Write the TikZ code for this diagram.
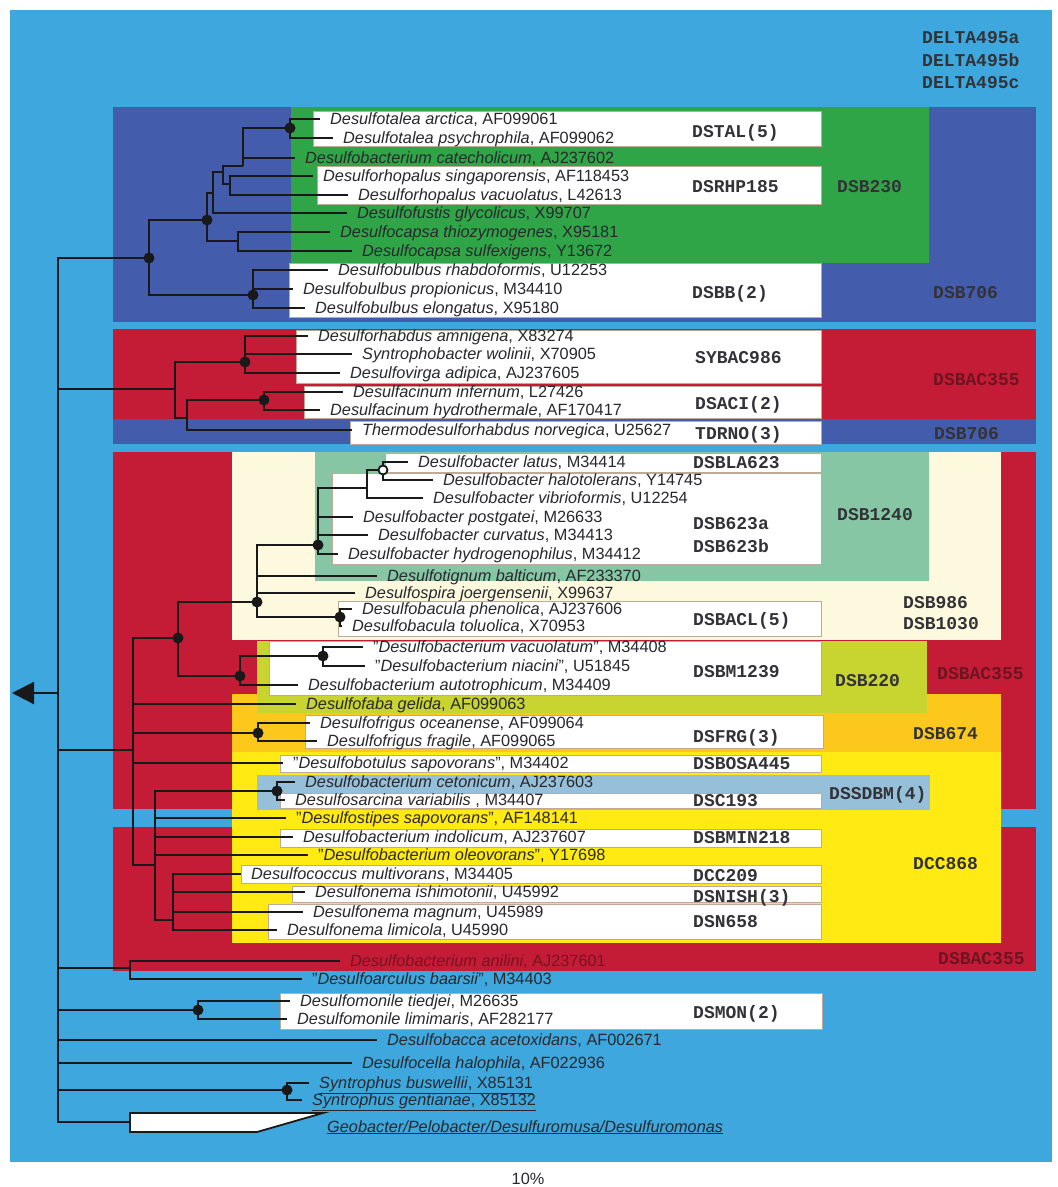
\documentclass[tikz,border=0pt]{standalone}
\usepackage{fontspec}
\setmainfont{Liberation Sans}
\setmonofont{Liberation Mono}
\usetikzlibrary{arrows.meta}
\definecolor{bgblue}{RGB}{62,168,222}
\definecolor{dkblue}{RGB}{68,92,172}
\definecolor{grn}{RGB}{48,165,72}
\definecolor{crimson}{RGB}{196,28,54}
\definecolor{ltgreen}{RGB}{134,198,164}
\definecolor{cream}{RGB}{252,249,222}
\definecolor{ygreen}{RGB}{200,212,48}
\definecolor{orng}{RGB}{252,200,28}
\definecolor{yell}{RGB}{255,234,20}
\definecolor{ltblue}{RGB}{150,192,218}
\definecolor{txt}{RGB}{40,40,45}
\definecolor{lbl}{RGB}{50,50,55}
\definecolor{dred}{RGB}{110,20,32}
\definecolor{anil}{RGB}{120,20,30}
\definecolor{boxline}{RGB}{190,170,150}
\tikzset{
 leaf/.style={anchor=west, inner xsep=10pt, inner ysep=0pt, text=txt, text height=13pt, text depth=3pt, font=\fontsize{16.3}{18}\selectfont},
 probe/.style={anchor=west, inner sep=0pt, text=lbl, text height=12pt, text depth=2pt, font=\ttfamily\bfseries\fontsize{18}{20}\selectfont},
 redprobe/.style={probe, text=dred},
 br/.style={line width=2.3pt, draw=black!90},
 tdot/.style={fill=black!90},
 wbox/.style={fill=white, draw=boxline, line width=0.5pt},
}
\newcommand\spn[1]{\textit{#1}}
\newcommand\qq{\symbol{34}}
\begin{document}
\begin{tikzpicture}[x=1pt,y=-1pt]
\useasboundingbox (0,0) rectangle (1058,1187);
\fill[white] (0,0) rectangle (1058,1187);
% background regions
\fill[bgblue] (10,10) rectangle (1052,1162);
\fill[dkblue] (113,107) rectangle (1036,322);
\fill[grn] (291,107) rectangle (929,263);
\fill[crimson] (113,329) rectangle (1036,419);
\fill[dkblue] (113,419) rectangle (1036,444);
\fill[crimson] (113,452) rectangle (1036,809);
\fill[crimson] (113,827) rectangle (1036,971);
\fill[cream] (232,452) rectangle (1001,640);
\fill[ltgreen] (315,452) rectangle (929,581);
\fill[orng] (232,694) rectangle (1001,752);
\fill[ygreen] (257,641) rectangle (927,713);
\fill[yell] (232,752) rectangle (1001,943);
\fill[ltblue] (257,775) rectangle (930,810);
% white boxes
\filldraw[wbox] (313,111) rectangle (821,146);
\filldraw[wbox] (317,166) rectangle (821,204);
\filldraw[wbox] (289,263) rectangle (821,317);
\filldraw[wbox] (296,330) rectangle (821,383);
\filldraw[wbox] (304,386) rectangle (821,418);
\filldraw[wbox] (350,421) rectangle (821,444);
\filldraw[wbox] (385,453) rectangle (821,472);
\filldraw[wbox] (332,473) rectangle (821,564);
\filldraw[wbox] (338,601) rectangle (821,636);
\filldraw[wbox] (269,641) rectangle (821,695);
\filldraw[wbox] (305,715) rectangle (823,748);
\filldraw[wbox] (280,755) rectangle (821,772);
\filldraw[wbox] (280,793) rectangle (821,808);
\filldraw[wbox] (280,829) rectangle (821,847);
\filldraw[wbox] (241,865) rectangle (821,883);
\filldraw[wbox] (292,886) rectangle (821,902);
\filldraw[wbox] (268,904) rectangle (821,939);
\filldraw[wbox] (280,993) rectangle (822,1029);
% probe labels
\node[probe] (p0a) at (922,38) {DELTA495a};
\node[probe] (p0b) at (922,61) {DELTA495b};
\node[probe] (p0c) at (922,83) {DELTA495c};
\node[probe] (p1) at (692,132) {DSTAL(5)};
\node[probe] (p2) at (692,187) {DSRHP185};
\node[probe] (p3) at (837,187) {DSB230};
\node[probe] (p4) at (692,293) {DSBB(2)};
\node[probe] (p5) at (933,293) {DSB706};
\node[probe] (p6) at (695,358) {SYBAC986};
\node[redprobe] (p7) at (933,380) {DSBAC355};
\node[probe] (p8) at (695,404) {DSACI(2)};
\node[probe] (p9) at (695,434) {TDRNO(3)};
\node[probe] (p10) at (934,434) {DSB706};
\node[probe] (p11) at (693,463) {DSBLA623};
\node[probe] (p12) at (837,515) {DSB1240};
\node[probe] (p13) at (693,524) {DSB623a};
\node[probe] (p14) at (693,547) {DSB623b};
\node[probe] (p15) at (903,603) {DSB986};
\node[probe] (p16) at (903,624) {DSB1030};
\node[probe] (p17) at (693,620) {DSBACL(5)};
\node[probe] (p18) at (693,672) {DSBM1239};
\node[probe] (p19) at (835,681) {DSB220};
\node[redprobe] (p20) at (937,674) {DSBAC355};
\node[probe] (p21) at (693,737) {DSFRG(3)};
\node[probe] (p22) at (913,734) {DSB674};
\node[probe] (p23) at (693,764) {DSBOSA445};
\node[probe] (p24) at (829,794) {DSSDBM(4)};
\node[probe] (p25) at (693,801) {DSC193};
\node[probe] (p26) at (693,838) {DSBMIN218};
\node[probe] (p27) at (913,864) {DCC868};
\node[probe] (p28) at (693,876) {DCC209};
\node[probe] (p29) at (693,897) {DSNISH(3)};
\node[probe] (p30) at (693,922) {DSN658};
\node[redprobe] (p31) at (938,959) {DSBAC355};
\node[probe] (p32) at (693,1013) {DSMON(2)};
% leaves
\node[leaf] (l1) at (320,119) {\spn{Desulfotalea arctica}, AF099061};
\node[leaf] (l2) at (333,138) {\spn{Desulfotalea psychrophila}, AF099062};
\node[leaf] (l3) at (295,158) {\spn{Desulfobacterium catecholicum}, AJ237602};
\node[leaf] (l4) at (313,176) {\spn{Desulforhopalus singaporensis}, AF118453};
\node[leaf] (l5) at (348,195) {\spn{Desulforhopalus vacuolatus}, L42613};
\node[leaf] (l6) at (347,213) {\spn{Desulfofustis glycolicus}, X99707};
\node[leaf] (l7) at (330,232) {\spn{Desulfocapsa thiozymogenes}, X95181};
\node[leaf] (l8) at (352,251) {\spn{Desulfocapsa sulfexigens}, Y13672};
\node[leaf] (l9) at (328,270) {\spn{Desulfobulbus rhabdoformis}, U12253};
\node[leaf] (l10) at (293,289) {\spn{Desulfobulbus propionicus}, M34410};
\node[leaf] (l11) at (305,308) {\spn{Desulfobulbus elongatus}, X95180};
\node[leaf] (l12) at (308,336) {\spn{Desulforhabdus amnigena}, X83274};
\node[leaf] (l13) at (352,354) {\spn{Syntrophobacter wolinii}, X70905};
\node[leaf] (l14) at (340,373) {\spn{Desulfovirga adipica}, AJ237605};
\node[leaf] (l15) at (343,392) {\spn{Desulfacinum infernum}, L27426};
\node[leaf] (l16) at (320,410) {\spn{Desulfacinum hydrothermale}, AF170417};
\node[leaf] (l17) at (352,430) {\spn{Thermodesulforhabdus norvegica}, U25627};
\node[leaf] (l18) at (408,462) {\spn{Desulfobacter latus}, M34414};
\node[leaf] (l19) at (433,480) {\spn{Desulfobacter halotolerans}, Y14745};
\node[leaf] (l20) at (423,498) {\spn{Desulfobacter vibrioformis}, U12254};
\node[leaf] (l21) at (353,517) {\spn{Desulfobacter postgatei}, M26633};
\node[leaf] (l22) at (368,535) {\spn{Desulfobacter curvatus}, M34413};
\node[leaf] (l23) at (338,554) {\spn{Desulfobacter hydrogenophilus}, M34412};
\node[leaf] (l24) at (377,576) {\spn{Desulfotignum balticum}, AF233370};
\node[leaf] (l25) at (355,593) {\spn{Desulfospira joergensenii}, X99637};
\node[leaf] (l26) at (352,609) {\spn{Desulfobacula phenolica}, AJ237606};
\node[leaf] (l27) at (342,626) {\spn{Desulfobacula toluolica}, X70953};
\node[leaf] (l28) at (363,647) {\qq\spn{Desulfobacterium vacuolatum}\qq, M34408};
\node[leaf] (l29) at (365,666) {\qq\spn{Desulfobacterium niacini}\qq, U51845};
\node[leaf] (l30) at (298,685) {\spn{Desulfobacterium autotrophicum}, M34409};
\node[leaf] (l31) at (296,704) {\spn{Desulfofaba gelida}, AF099063};
\node[leaf] (l32) at (310,723) {\spn{Desulfofrigus oceanense}, AF099064};
\node[leaf] (l33) at (317,741) {\spn{Desulfofrigus fragile}, AF099065};
\node[leaf] (l34) at (283,763) {\qq\spn{Desulfobotulus sapovorans}\qq, M34402};
\node[leaf] (l35) at (295,782) {\spn{Desulfobacterium cetonicum}, AJ237603};
\node[leaf] (l36) at (285,800) {\spn{Desulfosarcina variabilis} , M34407};
\node[leaf] (l37) at (286,818) {\qq\spn{Desulfostipes sapovorans}\qq, AF148141};
\node[leaf] (l38) at (293,837) {\spn{Desulfobacterium indolicum}, AJ237607};
\node[leaf] (l39) at (308,855) {\qq\spn{Desulfobacterium oleovorans}\qq, Y17698};
\node[leaf] (l40) at (241,874) {\spn{Desulfococcus multivorans}, M34405};
\node[leaf] (l41) at (305,892) {\spn{Desulfonema ishimotonii}, U45992};
\node[leaf] (l42) at (303,912) {\spn{Desulfonema magnum}, U45989};
\node[leaf] (l43) at (277,930) {\spn{Desulfonema limicola}, U45990};
\node[leaf, text=anil] (l44) at (340,961) {\spn{Desulfobacterium anilini}, AJ237601};
\node[leaf] (l45) at (302,979) {\qq\spn{Desulfoarculus baarsii}\qq, M34403};
\node[leaf] (l46) at (290,1001) {\spn{Desulfomonile tiedjei}, M26635};
\node[leaf] (l47) at (287,1019) {\spn{Desulfomonile limimaris}, AF282177};
\node[leaf] (l48) at (377,1040) {\spn{Desulfobacca acetoxidans}, AF002671};
\node[leaf] (l49) at (352,1063) {\spn{Desulfocella halophila}, AF022936};
\node[leaf] (l50) at (309,1083) {\underline{\spn{Syntrophus buswellii}, X85131}};
\node[leaf] (l51) at (302,1100) {\underline{\spn{Syntrophus gentianae}, X85132}};
\node[leaf, inner xsep=0pt] (geo) at (327,1127) {\underline{\spn{Geobacter/Pelobacter/Desulfuromusa/Desulfuromonas}}};
\node[leaf, anchor=center, inner xsep=0pt] (scale) at (528,1179) {10\%};
% internal nodes
\coordinate (root) at (58,693);
\coordinate (tip) at (12,693);
\coordinate (n1) at (149,258);
\coordinate (n2) at (207,220);
\coordinate (n3) at (213,193);
\coordinate (n4) at (223,172);
\coordinate (nTC) at (243,166);
\coordinate (nTal) at (290,128);
\coordinate (nRh) at (230,184);
\coordinate (nCap) at (238,241);
\coordinate (nBul) at (253,295);
\coordinate (n5) at (175,389);
\coordinate (nRhab) at (245,362);
\coordinate (n6) at (187,418);
\coordinate (nAci) at (264,400);
\coordinate (nA) at (133,750);
\coordinate (nB) at (178,638);
\coordinate (nD) at (257,602);
\coordinate (nBac) at (318,545);
\coordinate (nF) at (367,488);
\coordinate (nLat) at (383,470);
\coordinate (nBcl) at (340,617);
\coordinate (nE) at (240,676);
\coordinate (nVac) at (323,656);
\coordinate (nFrg) at (258,733);
\coordinate (nC) at (155,865);
\coordinate (nSar) at (277,791);
\coordinate (nNem) at (173,920);
\coordinate (nAn) at (130,968);
\coordinate (nMon) at (198,1010);
\coordinate (nSyn) at (287,1090);
\coordinate (wedge) at (130,1122);
% branches
\draw[br] (root) |- (n1);
\draw[br] (root) |- (n5);
\draw[br] (root) |- (nA);
\draw[br] (root) |- (nAn);
\draw[br] (root) |- (nMon);
\draw[br] (root) |- (l48.west);
\draw[br] (root) |- (l49.west);
\draw[br] (root) |- (nSyn);
\draw[br] (root) |- (wedge);
\draw[br] (n1) |- (n2);
\draw[br] (n1) |- (nBul);
\draw[br] (n2) |- (n3);
\draw[br] (n2) |- (nCap);
\draw[br] (n3) |- (n4);
\draw[br] (n3) |- (l6.west);
\draw[br] (n4) |- (nTC);
\draw[br] (n4) |- (nRh);
\draw[br] (nTC) |- (nTal);
\draw[br] (nTC) |- (l3.west);
\draw[br] (nTal) |- (l1.west);
\draw[br] (nTal) |- (l2.west);
\draw[br] (nRh) |- (l4.west);
\draw[br] (nRh) |- (l5.west);
\draw[br] (nCap) |- (l7.west);
\draw[br] (nCap) |- (l8.west);
\draw[br] (nBul) |- (l9.west);
\draw[br] (nBul) |- (l10.west);
\draw[br] (nBul) |- (l11.west);
\draw[br] (n5) |- (nRhab);
\draw[br] (n5) |- (n6);
\draw[br] (nRhab) |- (l12.west);
\draw[br] (nRhab) |- (l13.west);
\draw[br] (nRhab) |- (l14.west);
\draw[br] (n6) |- (nAci);
\draw[br] (n6) |- (l17.west);
\draw[br] (nAci) |- (l15.west);
\draw[br] (nAci) |- (l16.west);
\draw[br] (nA) |- (nB);
\draw[br] (nA) |- (l31.west);
\draw[br] (nA) |- (nFrg);
\draw[br] (nA) |- (l34.west);
\draw[br] (nA) |- (nC);
\draw[br] (nB) |- (nD);
\draw[br] (nB) |- (nE);
\draw[br] (nD) |- (nBac);
\draw[br] (nD) |- (l24.west);
\draw[br] (nD) |- (l25.west);
\draw[br] (nD) |- (nBcl);
\draw[br] (nBac) |- (nF);
\draw[br] (nBac) |- (l21.west);
\draw[br] (nBac) |- (l22.west);
\draw[br] (nBac) |- (l23.west);
\draw[br] (nF) |- (nLat);
\draw[br] (nF) |- (l20.west);
\draw[br] (nLat) |- (l18.west);
\draw[br] (nLat) |- (l19.west);
\draw[br] (nBcl) |- (l26.west);
\draw[br] (nBcl) |- (l27.west);
\draw[br] (nE) |- (nVac);
\draw[br] (nE) |- (l30.west);
\draw[br] (nVac) |- (l28.west);
\draw[br] (nVac) |- (l29.west);
\draw[br] (nFrg) |- (l32.west);
\draw[br] (nFrg) |- (l33.west);
\draw[br] (nC) |- (nSar);
\draw[br] (nC) |- (l37.west);
\draw[br] (nC) |- (l38.west);
\draw[br] (nC) |- (l39.west);
\draw[br] (nC) |- (nNem);
\draw[br] (nSar) |- (l35.west);
\draw[br] (nSar) |- (l36.west);
\draw[br] (nNem) |- (l40.west);
\draw[br] (nNem) |- (l41.west);
\draw[br] (nNem) |- (l42.west);
\draw[br] (nNem) |- (l43.west);
\draw[br] (nAn) |- (l44.west);
\draw[br] (nAn) |- (l45.west);
\draw[br] (nMon) |- (l46.west);
\draw[br] (nMon) |- (l47.west);
\draw[br] (nSyn) |- (l50.west);
\draw[br] (nSyn) |- (l51.west);
\draw[br, -{Triangle[length=22pt,width=22pt]}] (root) -- (tip);
% wedge
\draw[fill=white, line width=1.8pt, draw=black!90] (130,1113) -- (323,1113) -- (257,1132) -- (130,1132) -- cycle;
% node dots
\foreach \n in {n1,n2,nTal,nBul,nRhab,nAci,nB,nD,nBac,nBcl,nE,nVac,nFrg,nSar,nMon,nSyn}
  \fill[tdot] (\n) circle (5.5pt);
\filldraw[fill=white, draw=black!90, line width=1.8pt] (nLat) circle (4.5pt);
\end{tikzpicture}
\end{document}
